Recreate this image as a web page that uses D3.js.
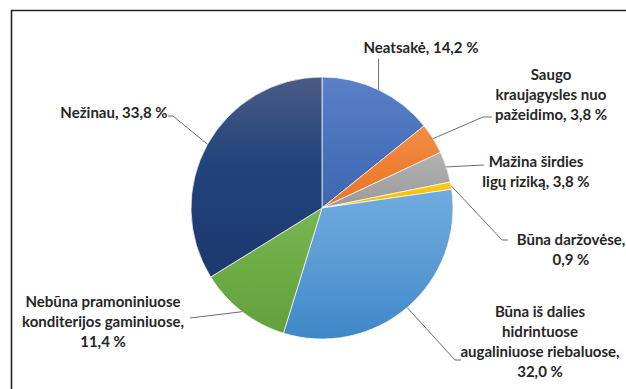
<!DOCTYPE html>
<html>
<head>
<meta charset="utf-8">
<script src="https://cdn.jsdelivr.net/npm/d3@7"></script>
<style>
  html, body { margin: 0; padding: 0; background: #ffffff; }
  svg { display: block; }
  text { font-family: Lato, "Open Sans", sans-serif; font-weight: bold; fill: #262626; }
</style>
</head>
<body>
<svg id="chart" width="626" height="389"></svg>
<script>
// ---- data ----
const categories = [
  "Neatsakė",
  "Saugo kraujagysles nuo pažeidimo",
  "Mažina širdies ligų riziką",
  "Būna daržovėse",
  "Būna iš dalies hidrintuose augaliniuose riebaluose",
  "Nebūna pramoniniuose konditerijos gaminiuose",
  "Nežinau"
];
const values = [14.2, 3.8, 3.8, 0.9, 32.0, 11.4, 33.8];
// token counts after which label lines break (layout of the label text)
const labelBreaks = [
  [],
  [1, 3],
  [2],
  [2],
  [3, 4, 6],
  [2, 4],
  []
];
const baseColors = ["#4472c4", "#ed7d31", "#a5a5a5", "#ffc000", "#5b9bd5", "#70ad47", "#264478"];
const gradTop    = ["#5b80c6", "#f28d47", "#b2b2b2", "#ffc929", "#70abde", "#79b652", "#4b5b86"];
const gradMid    = ["#4a73bd", "#ee7f33", "#a6a6a6", "#ffc000", "#5b9bd5", "#6dab45", "#21427b"];
const gradBot    = ["#3d67b1", "#e7752a", "#9a9a9a", "#f4b700", "#3d87c8", "#62a13c", "#1d396d"];

// ---- layout ----
const svg = d3.select("#chart");
const cx = 322, cy = 208, R = 131;
const fmt = v => d3.format(".1f")(v).replace(".", ",") + " %";

// label positions: x center, first-line y (middle), leader elbow points
const labelLayout = [
  { x: 421, y: 48,  path: [[null, 59]] },
  { x: 551, y: 75,  path: [[483, 117], [492, 117]] },
  { x: 536, y: 162, path: [[484, 165]] },
  { x: 571, y: 240, path: [[502, 240], [508, 240]] },
  { x: 540, y: 312, path: [[455, 360], [461, 360]] },
  { x: 103, y: 302, path: [[190, 318]] },
  { x: 114, y: 113, path: [[173, 116], [168, 116]] }
];
const lineH = 20;

// border
svg.append("path")
  .attr("d", "M11.5,389 L11.5,10.5 L626,10.5")
  .attr("fill", "none")
  .attr("stroke", "#262626")
  .attr("stroke-width", 1.6);

// gradients
const defs = svg.append("defs");
categories.forEach((c, i) => {
  const g = defs.append("linearGradient")
    .attr("id", "g" + i)
    .attr("x1", 0).attr("y1", 0).attr("x2", 0).attr("y2", 1);
  g.append("stop").attr("offset", "0%").attr("stop-color", gradTop[i]);
  g.append("stop").attr("offset", i === 6 ? "45%" : "50%").attr("stop-color", gradMid[i]);
  g.append("stop").attr("offset", "100%").attr("stop-color", gradBot[i]);
});

const pie = d3.pie().sort(null).value(d => d)(values);
const arc = d3.arc().innerRadius(0).outerRadius(R);
const edge = d3.arc().innerRadius(R).outerRadius(R);

const g = svg.append("g").attr("transform", `translate(${cx},${cy})`);
g.selectAll("path.slice")
  .data(pie)
  .join("path")
  .attr("class", "slice")
  .attr("d", arc)
  .attr("fill", (d, i) => `url(#g${i})`)
  .attr("stroke", "#ffffff")
  .attr("stroke-width", 0.7);

// leader lines
pie.forEach((d, i) => {
  const p = edge.centroid(d);
  const start = [cx + p[0], cy + p[1]];
  const pts = [start];
  labelLayout[i].path.forEach(pt => {
    pts.push([pt[0] == null ? start[0] : pt[0], pt[1] == null ? start[1] : pt[1]]);
  });
  svg.append("path")
    .attr("d", d3.line()(pts))
    .attr("fill", "none")
    .attr("stroke", "#6e6e6e")
    .attr("stroke-width", 1);
});

// labels
categories.forEach((c, i) => {
  const words = (c + ", " + fmt(values[i])).split(" ");
  const toks = [];
  words.forEach(w => { if (w === "%") toks[toks.length - 1] += " %"; else toks.push(w); });
  const lines = [];
  let cur = [];
  toks.forEach((w, k) => {
    cur.push(w);
    if (labelBreaks[i].includes(k + 1)) { lines.push(cur.join(" ")); cur = []; }
  });
  if (cur.length) lines.push(cur.join(" "));
  const L = labelLayout[i];
  const t = svg.append("text")
    .attr("text-anchor", "middle")
    .attr("font-size", 15);
  lines.forEach((ln, k) => {
    t.append("tspan")
      .attr("x", L.x)
      .attr("y", L.y + k * lineH)
      .attr("dy", "0.35em")
      .text(ln);
  });
});
</script>
</body>
</html>
